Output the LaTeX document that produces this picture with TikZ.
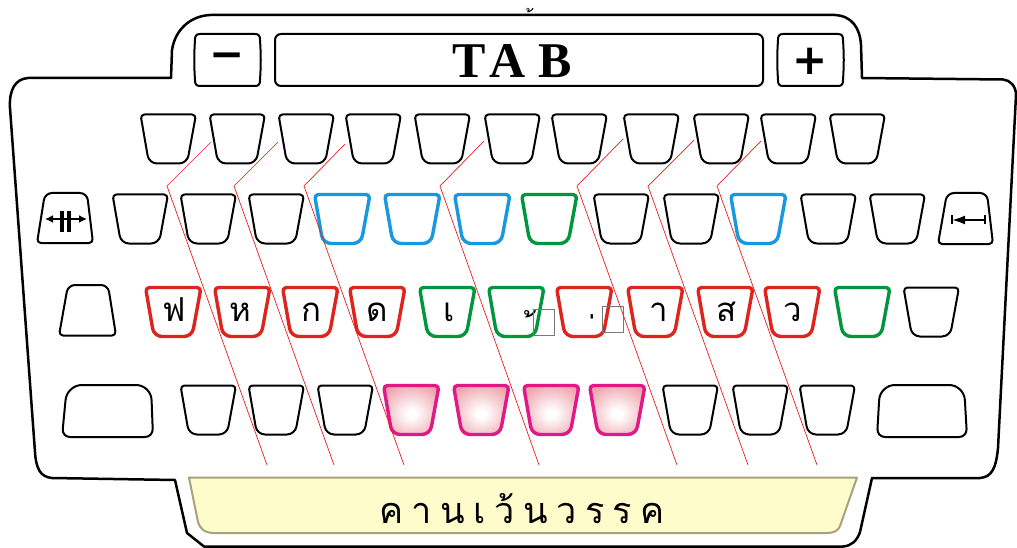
\documentclass[tikz,border=0pt]{standalone}
\usepackage{fontspec}
\setmainfont{Liberation Serif}
\newfontfamily\thai[Script=Thai]{Loma}
\newfontfamily\djv{DejaVu Sans}
\usetikzlibrary{arrows.meta}
\definecolor{keyred}{RGB}{222,36,30}
\definecolor{keyblue}{RGB}{24,152,222}
\definecolor{keygreen}{RGB}{0,150,62}
\definecolor{keymag}{RGB}{224,24,136}
\definecolor{pinkfill}{RGB}{238,160,168}
\definecolor{spfill}{RGB}{255,252,204}
\definecolor{spline}{RGB}{168,162,124}
\definecolor{zone}{RGB}{232,30,30}
\definecolor{boxgray}{RGB}{120,120,120}
\pgfdeclareradialshading{pinkglow}{\pgfpoint{0bp}{-4bp}}{color(0bp)=(white); color(4bp)=(white); color(32bp)=(pinkfill); color(75bp)=(pinkfill)}
\tikzset{
  kb/.style={draw=black, line width=2pt, fill=white, line join=round},
  kr/.style={draw=keyred, line width=3.4pt, fill=white, line join=round},
  kbl/.style={draw=keyblue, line width=3.4pt, fill=white, line join=round},
  kg/.style={draw=keygreen, line width=3.4pt, fill=white, line join=round},
  kp/.style={draw=keymag, line width=3.4pt, shading=pinkglow, line join=round},
  outline/.style={draw=black, line width=2.5pt, fill=white, line join=round},
  btn/.style={draw=black, line width=2pt},
  zoneline/.style={draw=zone, line width=0.7pt},
  thaikey/.style={font=\thai\fontsize{33}{33}\selectfont, anchor=base, inner sep=0pt},
  thaibar/.style={font=\thai\fontsize{36}{36}\selectfont, anchor=base, inner sep=0pt},
  missing/.style={draw=boxgray, line width=0.8pt},
}
\newcommand{\keyT}[3]{%
  \draw[#3, shift={(#1,#2)}] (29,1.5) [rounded corners=4] -- (57,1.5) [rounded corners=8] -- (48,50.5) -- (10,50.5) [rounded corners=4] -- (1.5,1.5) -- cycle;}
\begin{document}
\begin{tikzpicture}[x=1pt,y=-1pt]
\useasboundingbox (0,0) rectangle (1017,548);
% outer body
\draw[outline] (210,15) -- (835,15) .. controls (852,16) and (860,28) .. (861,45) -- (862,78) -- (1003,79.5) .. controls (1010,80) and (1016,86) .. (1016,95) -- (998,448) .. controls (996,468) and (992,477) .. (980,478) -- (872,478) -- (860,532) .. controls (857,541) and (851,546) .. (843,546.5) -- (204,546.5) -- (187,533) -- (175,480) -- (52,478) .. controls (40,477) and (36,468) .. (35,452) -- (10,108) .. controls (9,90) and (15,79) .. (28,78) -- (171,78) -- (172,50) .. controls (175,30) and (190,16) .. (210,15) -- cycle;
\node[font=\thai\fontsize{20}{20}\selectfont, inner sep=0pt] (topmark) at (533,19) {้};
% top buttons
\draw[btn] (200,34) -- (255,34) .. controls (259,34) and (260,36) .. (260,40) .. controls (261,55) and (261,65) .. (260,80) .. controls (260,84) and (259,86) .. (255,86) -- (200,86) .. controls (196,86) and (195,84) .. (195,80) .. controls (194,65) and (194,55) .. (195,40) .. controls (195,36) and (196,34) .. (200,34) -- cycle;
\draw[btn] (783,34) -- (838,34) .. controls (842,34) and (843,36) .. (843,40) .. controls (844,55) and (844,65) .. (843,80) .. controls (843,84) and (842,86) .. (838,86) -- (783,86) .. controls (779,86) and (778,84) .. (778,80) .. controls (777,65) and (777,55) .. (778,40) .. controls (778,36) and (779,34) .. (783,34) -- cycle;
\draw[btn, rounded corners=6] (275,34) rectangle (763,86);
\node[font=\fontsize{50}{50}\selectfont\bfseries, anchor=base, inner sep=0pt] (tab) at (512,78) {T\kern4pt A\kern12pt B};
\node[font=\djv\bfseries\fontsize{42}{42}\selectfont, inner sep=0pt] (minus) at (227,61) {−};
\node[font=\djv\bfseries\fontsize{42}{42}\selectfont, inner sep=0pt] (plus) at (810.5,61.5) {+};
% row 1
\foreach \x in {139,208,277,344,413,483,550,622,692,759,828} {\keyT{\x}{113}{kb}}
% row 2
\draw[kb] (45,193) [rounded corners=7] -- (87,193) [rounded corners=4] -- (93,243) -- (37,243) [rounded corners=7] -- cycle;
\draw[line width=2pt, {Latex[length=8pt,width=8pt]}-{Latex[length=8pt,width=8pt]}] (45,219) -- (87,219);
\fill (60,211.5) rectangle (63.5,232);
\fill (67,211.5) rectangle (70.5,232);
\draw[kb] (947,193) [rounded corners=7] -- (987,193) [rounded corners=4] -- (993,244) -- (938,244) [rounded corners=7] -- cycle;
\draw[line width=2pt, {Latex[length=13pt,width=9pt]}-] (952,220) -- (985,220);
\draw[line width=2pt] (952,215.5) -- (952,224.5);
\draw[line width=2pt] (985,215.5) -- (985,224.5);
\foreach \x/\s in {111/kb,179/kb,247/kb,313/kbl,383/kbl,453/kbl,520/kg,592/kb,662/kb,729/kbl,799/kb,868/kb} {\keyT{\x}{193}{\s}}
% row 3
\draw[kb] (68,285) [rounded corners=7] -- (108,285) [rounded corners=4] -- (116,335.5) -- (59,335.5) [rounded corners=7] -- cycle;
\foreach \x/\s in {144/kr,213/kr,281/kr,348/kr,418/kg,487/kg,555/kr,626/kr,696/kr,763/kr,833/kg,902/kb} {\keyT{\x}{286}{\s}}
\node[thaikey] (kf) at (174,321) {ฟ};
\node[thaikey] (kh) at (240,321) {ห};
\node[thaikey] (kk) at (311,321) {ก};
\node[thaikey] (kd) at (377,321) {ด};
\node[thaikey] (ke) at (449,321) {เ};
\node[thaikey] (kt) at (535,345) {้};
\node[thaikey] (kt2) at (596,348) {่};
\node[thaikey] (ka) at (659,321) {า};
\node[thaikey] (ks) at (727,321) {ส};
\node[thaikey] (kw) at (793,321) {ว};
\draw[missing] (533,309) rectangle (554,335);
\draw[missing] (602,306) rectangle (623,332);
% row 4
\draw[kb] (67,385) [rounded corners=15] -- (151,385) [rounded corners=8] -- (153,437) -- (62,437) [rounded corners=15] -- cycle;
\draw[kb] (880,385) [rounded corners=15] -- (964,385) [rounded corners=8] -- (967,437) -- (877,437) [rounded corners=15] -- cycle;
\foreach \x/\s in {179/kb,247/kb,316/kb,382/kp,452/kp,522/kp,588/kp,661/kb,731/kb,798/kb} {\keyT{\x}{384}{\s}}
% space bar label
\draw[draw=spline, fill=spfill, line width=2pt, line join=round] (189,477.5) -- (857,477.5) -- (840,526) .. controls (838,531) and (834,533) .. (826,533) -- (214,533) .. controls (205,533) and (200,529) .. (198,522) -- cycle;
\node[thaibar] (space) at (522,523) {ค\hspace{8.5pt}า\hspace{8.5pt}น\hspace{8.5pt}เ\hspace{8.5pt}ว้\hspace{8.5pt}น\hspace{8.5pt}ว\hspace{8.5pt}ร\hspace{8.5pt}ร\hspace{8.5pt}ค};
% finger zone lines
\draw[zoneline] (211,142) -- (167,186) -- (267,465);
\draw[zoneline] (278,142) -- (234,186) -- (334,465);
\draw[zoneline] (345,144) -- (304,186) -- (404,465);
\draw[zoneline] (484,141) -- (440,186) -- (539,465);
\draw[zoneline] (623,139) -- (577,186) -- (677,465);
\draw[zoneline] (694,140) -- (648,186) -- (748,465);
\draw[zoneline] (761,141) -- (717,186) -- (817,465);
\end{tikzpicture}
\end{document}
